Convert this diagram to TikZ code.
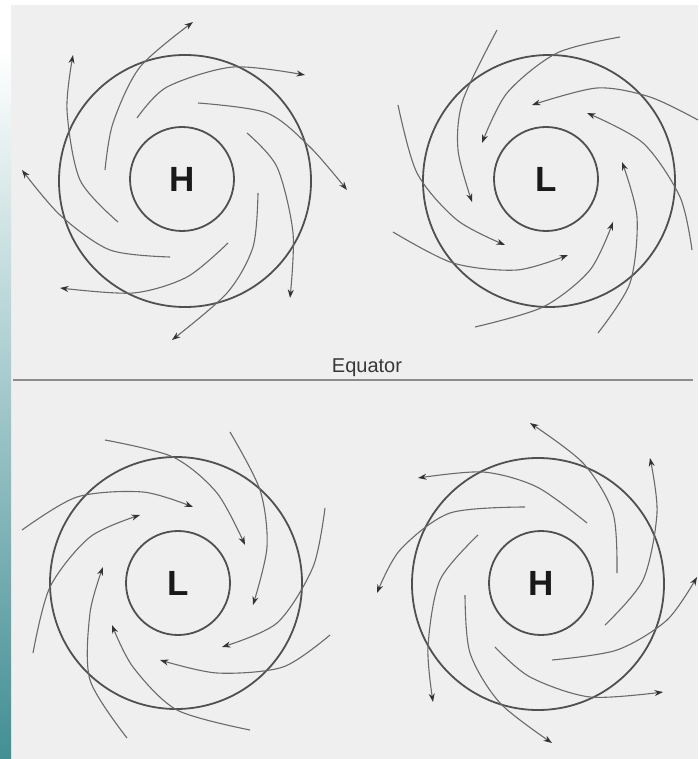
\documentclass[tikz,border=0pt]{standalone}
\usepackage{fontspec}
\setmainfont{Liberation Sans}
\usetikzlibrary{arrows.meta}
\definecolor{bg}{HTML}{EFEFEF}
\definecolor{teal1}{HTML}{428F94}
\definecolor{ringc}{HTML}{505050}
\definecolor{arrc}{HTML}{6A6A6A}
\definecolor{eqc}{HTML}{383838}
\tikzset{
  ring/.style={circle, draw=ringc, line width=1.8pt, inner sep=0pt},
  outerring/.style={ring, minimum size=252pt},
  innerring/.style={ring, minimum size=104pt, font=\fontsize{35}{35}\selectfont\bfseries, text=black!90},
  arr/.style={draw=arrc, line width=1.1pt, -{Stealth[length=8.5pt,width=6pt,color=black!80]}},
}
\begin{document}
\begin{tikzpicture}[x=1pt,y=-1pt]
\useasboundingbox (0,0) rectangle (698,759);
% background
\fill[white] (0,0) rectangle (698,759);
\fill[bg] (11,5) rectangle (698,759);
\shade[top color=white, bottom color=teal1] (0,50) rectangle (11,759);
% equator
\node[font=\fontsize{20}{20}\selectfont, text=eqc] (eqtext) at (367,368) {Equator};
\coordinate (eqL) at (13,380);
\coordinate (eqR) at (693,380);
\draw[draw=black!45, line width=1.4pt] (eqL) -- (eqR);

% ---------- top-left H ----------
\node[outerring] (o1) at (185,181) {};
\node[innerring] (h1) at (182,179) {H};
\draw[arr] plot[smooth] coordinates {(105,170) (113,123) (140,67) (193,22)};
\draw[arr] plot[smooth] coordinates {(137,118) (167,87) (233,67) (305,75)};
\draw[arr] plot[smooth] coordinates {(198,103) (267,113) (310,147) (347,190)};
\draw[arr] plot[smooth] coordinates {(247,133) (277,167) (293,233) (290,298)};
\draw[arr] plot[smooth] coordinates {(258,193) (253,247) (227,293) (172,340)};
\draw[arr] plot[smooth] coordinates {(228,243) (187,277) (133,293) (60,288)};
\draw[arr] plot[smooth] coordinates {(170,257) (110,250) (60,215) (22,170)};
\draw[arr] plot[smooth] coordinates {(118,222) (80,180) (67,110) (73,55)};

% ---------- top-right L ----------
\node[outerring] (o2) at (549,181) {};
\node[innerring] (l2) at (546,179) {L};
\draw[arr] plot[smooth] coordinates {(497,30) (463,100) (458,150) (472,202)};
\draw[arr] plot[smooth] coordinates {(620,37) (557,53) (507,93) (482,143)};
\draw[arr] plot[smooth] coordinates {(698,120) (650,97) (597,88) (532,105)};
\draw[arr] plot[smooth] coordinates {(692,250) (680,197) (643,143) (587,113)};
\draw[arr] plot[smooth] coordinates {(598,333) (630,283) (637,217) (622,162)};
\draw[arr] plot[smooth] coordinates {(475,327) (543,307) (590,270) (613,222)};
\draw[arr] plot[smooth] coordinates {(393,232) (453,263) (517,270) (568,255)};
\draw[arr] plot[smooth] coordinates {(398,105) (417,173) (457,220) (505,245)};

% ---------- bottom-left L ----------
\node[outerring] (o3) at (176,583) {};
\node[innerring] (l3) at (178,583) {L};
\draw[arr] plot[smooth] coordinates {(105,440) (173,457) (217,493) (245,545)};
\draw[arr] plot[smooth] coordinates {(230,432) (260,490) (267,547) (253,605)};
\draw[arr] plot[smooth] coordinates {(325,508) (313,567) (277,623) (222,647)};
\draw[arr] plot[smooth] coordinates {(330,635) (283,667) (217,673) (160,660)};
\draw[arr] plot[smooth] coordinates {(250,730) (177,710) (133,667) (112,625)};
\draw[arr] plot[smooth] coordinates {(127,738) (90,680) (90,613) (103,567)};
\draw[arr] plot[smooth] coordinates {(33,653) (50,587) (90,537) (140,515)};
\draw[arr] plot[smooth] coordinates {(22,530) (77,497) (143,492) (193,507)};

% ---------- bottom-right H ----------
\node[outerring] (o4) at (538,584) {};
\node[innerring] (h4) at (541,583) {H};
\draw[arr] plot[smooth] coordinates {(587,523) (537,487) (483,472) (418,478)};
\draw[arr] plot[smooth] coordinates {(617,573) (613,513) (583,463) (530,423)};
\draw[arr] plot[smooth] coordinates {(605,625) (643,580) (657,513) (650,458)};
\draw[arr] plot[smooth] coordinates {(552,660) (617,650) (667,620) (697,577)};
\draw[arr] plot[smooth] coordinates {(495,647) (530,677) (590,697) (663,692)};
\draw[arr] plot[smooth] coordinates {(465,595) (470,653) (500,703) (552,743)};
\draw[arr] plot[smooth] coordinates {(478,535) (440,580) (428,647) (433,702)};
\draw[arr] plot[smooth] coordinates {(525,507) (450,513) (400,550) (377,593)};
\end{tikzpicture}
\end{document}
